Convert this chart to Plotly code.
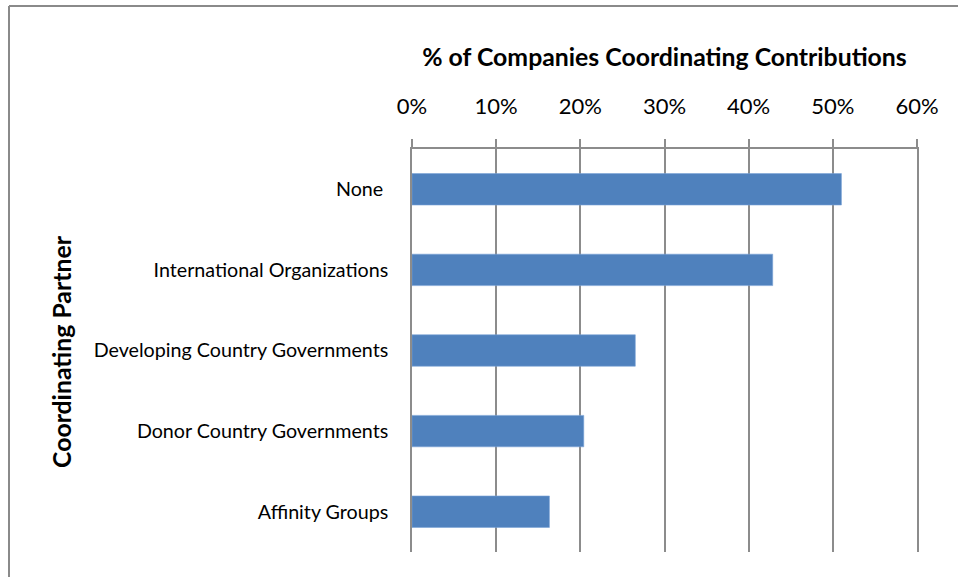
import plotly.graph_objects as go

# Coordinating partners (top to bottom) and share of companies (n = 49)
partners = ["None ", "International Organizations", "Developing Country Governments",
            "Donor Country Governments", "Affinity Groups"]
shares = [25 / 49, 21 / 49, 13 / 49, 10 / 49, 8 / 49]
tick_vals = [0, 0.1, 0.2, 0.3, 0.4, 0.5, 0.6]

W, H = 958, 577
L, R, T, B = 412, 41, 149, 25
pw, ph = W - L - R, H - T - B

FONT = "Lato, Carlito, Calibri, sans-serif"
GRID = "#8c8c8c"
FRAME = "#8a8a8a"

fig = go.Figure(go.Bar(
    x=shares, y=partners, orientation="h",
    marker=dict(color="#4f81bd", line=dict(color="#7ba3d6", width=0.6)),
    width=0.39,
))

fig.update_layout(
    width=W, height=H,
    margin=dict(l=L, r=R, t=T, b=B),
    paper_bgcolor="white", plot_bgcolor="white",
    font=dict(family=FONT, size=19.7, color="#000"),
    showlegend=False,
    title=dict(text="<b>% of Companies Coordinating Contributions</b>",
               font=dict(family=FONT, size=24.8, color="#000"),
               x=0.5, xref="paper", y=1 - 57 / H, yref="container",
               xanchor="center", yanchor="middle"),
    xaxis=dict(side="top", range=[0, 0.6], tickvals=tick_vals, tickformat=".0%",
               showgrid=True, gridcolor=GRID, gridwidth=1.5,
               showline=True, linecolor=GRID, linewidth=1.5,
               ticks="outside", ticklen=8, tickcolor=GRID, tickwidth=1.5,
               ticklabelstandoff=16, zeroline=False,
               tickfont=dict(family=FONT, size=22, color="#000")),
    yaxis=dict(categoryorder="array", categoryarray=partners[::-1],
               showgrid=False, showline=True, mirror=True,
               linecolor=GRID, linewidth=1.5,
               ticks="", ticklabelstandoff=18,
               tickfont=dict(family=FONT, size=19.7, color="#000")),
    annotations=[dict(text="<b>Coordinating Partner</b>", textangle=-90,
                      xref="paper", yref="paper",
                      x=(61 - L) / pw, y=(H - B - 352) / ph,
                      xanchor="center", yanchor="middle", showarrow=False,
                      font=dict(family=FONT, size=24.8, color="#000"))],
    shapes=[
        # chart area frame: top edge
        dict(type="line", xref="paper", yref="paper",
             xsizemode="pixel", xanchor=0, x0=9 - L, x1=W + 20 - L,
             ysizemode="pixel", yanchor=0, y0=H - B - 6, y1=H - B - 6,
             line=dict(color=FRAME, width=2)),
        # chart area frame: left edge
        dict(type="line", xref="paper", yref="paper",
             xsizemode="pixel", xanchor=0, x0=9 - L, x1=9 - L,
             ysizemode="pixel", yanchor=0, y0=H - B - 6, y1=-B - 20,
             line=dict(color=FRAME, width=2)),
    ],
)

fig.write_html("out.html")
